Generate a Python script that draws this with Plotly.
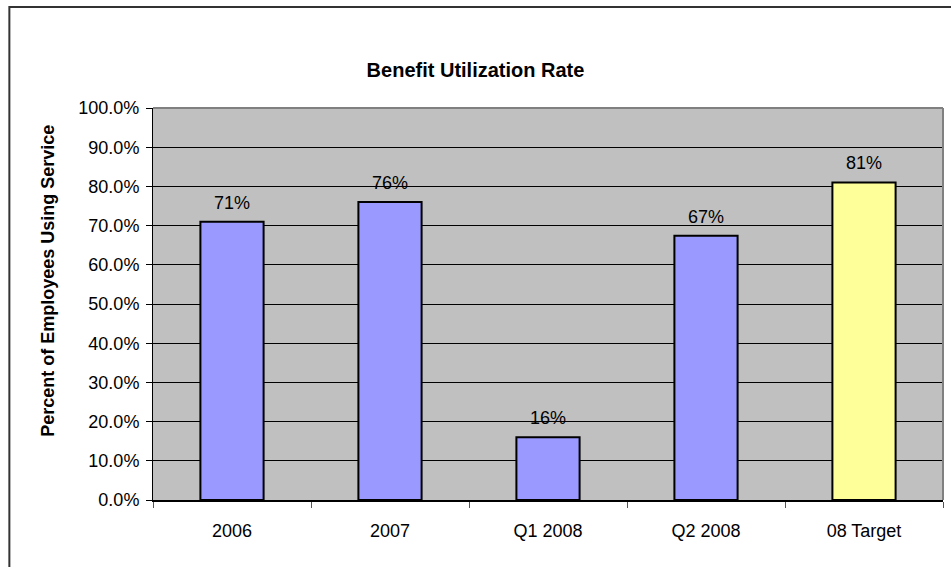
import plotly.graph_objects as go

categories = ["2006", "2007", "Q1 2008", "Q2 2008", "08 Target"]
values = [0.71, 0.76, 0.16, 0.674, 0.81]
bar_colors = ["#9999FF", "#9999FF", "#9999FF", "#9999FF", "#FFFF99"]
y_ticks = [i / 10 for i in range(11)]

FONT = "Liberation Sans, Arial, sans-serif"

fig = go.Figure()
fig.add_trace(go.Bar(
    x=categories, y=values,
    marker=dict(color=bar_colors, line=dict(color="black", width=2)),
    width=0.4,
    hoverinfo="skip",
))

for i, v in enumerate(values):
    fig.add_annotation(x=i, y=v, text=f"{v*100:.0f}%", showarrow=False,
                       yanchor="bottom", yshift=7,
                       font=dict(family=FONT, size=18, color="black"))

fig.add_annotation(xref="paper", yref="paper", x=-0.1477, y=0.56,
                   text="<b>Percent of Employees Using Service</b>",
                   textangle=-90, showarrow=False,
                   font=dict(family=FONT, size=18, color="black"))

# outer chart frame
fig.add_shape(type="rect", xref="paper", yref="paper",
              x0=(9 - 153) / 792, x1=(965 - 153) / 792,
              y0=(500 - 590) / 392, y1=(500 - 7) / 392,
              line=dict(color="#333333", width=2), layer="below")
# plot area top and right border
fig.add_shape(type="line", xref="paper", yref="paper", x0=0, x1=1, y0=1, y1=1,
              line=dict(color="#808080", width=2))
fig.add_shape(type="line", xref="paper", yref="paper", x0=1, x1=1, y0=0, y1=1,
              line=dict(color="#808080", width=2))

fig.update_layout(
    width=951, height=567,
    margin=dict(l=153, r=8, t=108, b=67),
    paper_bgcolor="white",
    plot_bgcolor="#C0C0C0",
    showlegend=False,
    font=dict(family=FONT, color="black"),
    title=dict(text="<b>Benefit Utilization Rate</b>", xref="container", yref="container",
               x=0.5, y=1 - 70 / 567, xanchor="center", yanchor="middle",
               font=dict(family=FONT, size=20, color="black")),
    bargap=0.6,
)
fig.update_xaxes(
    type="category", range=[-0.5, 4.5],
    showline=True, linecolor="black", linewidth=2,
    ticks="outside", tickson="boundaries", ticklen=6, tickcolor="#555555",
    ticklabelstandoff=13,
    tickfont=dict(family=FONT, size=18, color="black"),
    showgrid=False,
)
fig.update_yaxes(
    range=[0, 1], tickvals=y_ticks, tickformat=".1%",
    showline=True, linecolor="black", linewidth=1,
    ticks="outside", ticklen=6, tickcolor="black",
    ticklabelstandoff=3,
    tickfont=dict(family=FONT, size=18, color="black"),
    showgrid=True, gridcolor="black", gridwidth=1,
    zeroline=False,
)

fig.write_html("out.html")
